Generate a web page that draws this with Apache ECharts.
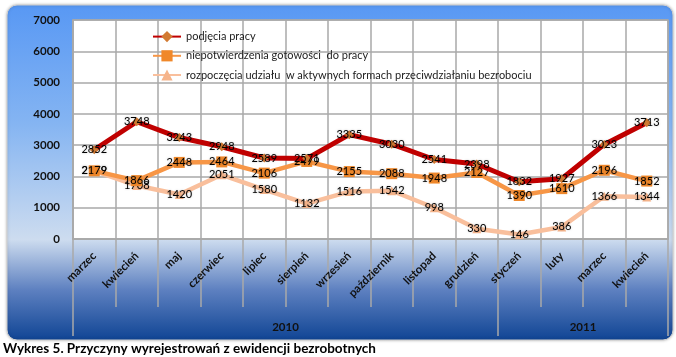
<!DOCTYPE html>
<html>
<head>
<meta charset="utf-8">
<script src="https://cdn.jsdelivr.net/npm/echarts@6/dist/echarts.min.js"></script>
<style>
html,body{margin:0;padding:0;background:#fff;}
#c{width:676px;height:357px;}
</style>
</head>
<body>
<div id="c"></div>
<script>
var months = ['marzec','kwiecień','maj','czerwiec','lipiec','sierpień','wrzesień','październik','listopad','grudzień','styczeń','luty','marzec','kwiecień'];
var years = ['2010','2011'];
var yearSpans = [[0,10],[10,14]];
var seriesNames = ['podjęcia pracy','niepotwierdzenia gotowości  do pracy','rozpoczęcia udziału  w aktywnych formach przeciwdziałaniu bezrobociu'];
var podjecia = [2852,3748,3243,2948,2589,2571,3335,3030,2541,2398,1832,1927,3023,3713];
var niepotw = [2179,1866,2448,2464,2106,2479,2155,2088,1948,2127,1390,1610,2196,1852];
var rozpocz = [2179,1708,1420,2051,1580,1132,1516,1542,998,330,146,386,1366,1344];
var yTicks = {min:0, max:7000, interval:1000};
var caption = 'Wykres 5. Przyczyny wyrejestrowań z ewidencji bezrobotnych';

var yearCenters = yearSpans.map(function(s){return (s[0]+s[1])/2;});
var yearBounds = [yearSpans[0][0]].concat(yearSpans.map(function(s){return s[1];}));

var FONT = 'Lato, "Liberation Sans", sans-serif';
var GRAY = '#a9a9a9';
var chart = echarts.init(document.getElementById('c'));

function lbl(){
  return {show:true, position:'inside', fontSize:11, color:'#000', fontFamily:FONT,
    textShadowColor:'rgba(0,0,0,0.25)', textShadowBlur:2};
}

chart.setOption({
  backgroundColor:'#fff',
  animation:false,
  title:{text:caption, left:3, top:341, padding:0, textStyle:{fontSize:13.5, lineHeight:15, fontWeight:'bold', color:'#000', fontFamily:FONT}},
  graphic:[{
    type:'rect', z:-10, silent:true,
    shape:{x:7, y:5, width:666, height:335, r:10},
    style:{
      fill:new echarts.graphic.LinearGradient(0,0,0,1,[
        {offset:0,color:'#5898f4'},
        {offset:0.35,color:'#84b4f2'},
        {offset:0.7,color:'#cddcef'},
        {offset:0.85,color:'#5d80c0'},
        {offset:1,color:'#0f4494'}
      ]),
      stroke:'#d0d0d0', lineWidth:1,
      shadowColor:'rgba(0,0,0,0.25)', shadowBlur:3
    }
  }],
  legend:{
    orient:'vertical', left:147, top:26, itemWidth:28, itemHeight:14, itemGap:8,
    textStyle:{fontSize:11, color:'#222', fontFamily:FONT},
    data:seriesNames
  },
  grid:{left:73, right:8, top:20, bottom:118, show:true, backgroundColor:'#fff', borderColor:GRAY, borderWidth:1.5},
  xAxis:[{
    type:'category', data:months, boundaryGap:true,
    axisLine:{show:true, lineStyle:{color:GRAY, width:1.5}},
    axisTick:{show:true, interval:0, length:68, lineStyle:{color:GRAY, width:1.5}},
    splitLine:{show:true, interval:0, lineStyle:{color:GRAY, width:1.5}},
    axisLabel:{interval:0, rotate:45, margin:15, fontSize:11.5, fontWeight:'bold', color:'#111', fontFamily:FONT}
  },{
    type:'value', min:0, max:months.length, position:'bottom',
    axisLine:{show:false}, splitLine:{show:false},
    axisTick:{show:true, customValues:yearBounds, length:97, lineStyle:{color:GRAY, width:1.5}},
    axisLabel:{customValues:yearCenters, margin:82, fontSize:11.5, fontWeight:'bold', color:'#111', fontFamily:FONT,
      formatter:function(v){var i=yearCenters.indexOf(v); return i>=0?years[i]:'';}}
  }],
  yAxis:{
    type:'value', min:yTicks.min, max:yTicks.max, interval:yTicks.interval,
    axisLine:{show:true, lineStyle:{color:GRAY, width:1.5}},
    axisTick:{show:false},
    splitLine:{show:true, lineStyle:{color:GRAY, width:1.5}},
    axisLabel:{margin:13, fontSize:11.5, fontWeight:'bold', color:'#111', fontFamily:FONT,
      formatter:function(v){return String(v);}}
  },
  series:[{
    name:seriesNames[2], type:'line', data:rozpocz, xAxisIndex:0,
    lineStyle:{color:'#f9bf9c', width:4.5}, itemStyle:{color:'#f6b48a'},
    symbol:'triangle', symbolSize:9, label:lbl(), z:2
  },{
    name:seriesNames[1], type:'line', data:niepotw, xAxisIndex:0,
    lineStyle:{color:'#f79646', width:4.5}, itemStyle:{color:'#f0882a'},
    symbol:'rect', symbolSize:11, label:lbl(), z:3
  },{
    name:seriesNames[0], type:'line', data:podjecia, xAxisIndex:0,
    lineStyle:{color:'#c00000', width:5}, itemStyle:{color:'#d27a32'},
    symbol:'diamond', symbolSize:9, label:lbl(), z:4
  }]
});
</script>
</body>
</html>
